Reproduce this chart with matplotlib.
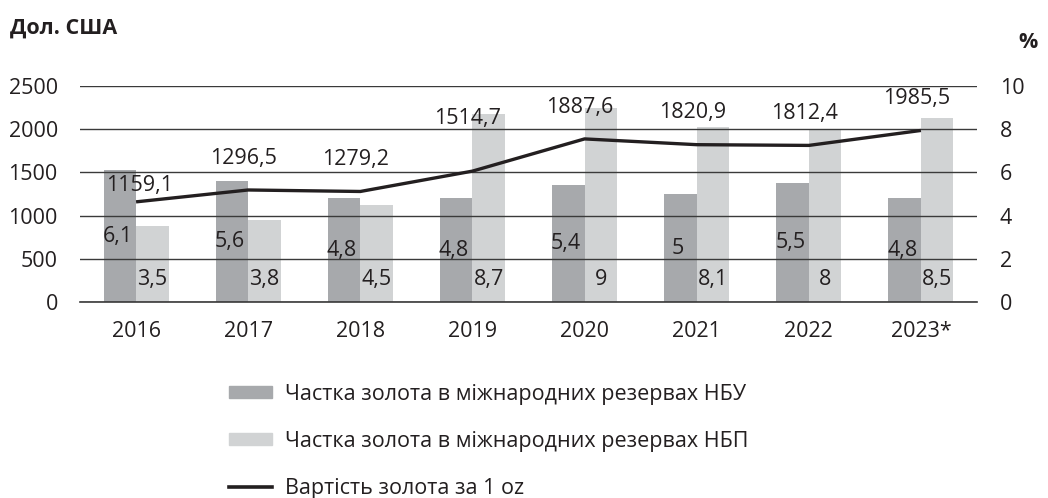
import matplotlib.pyplot as plt
from matplotlib.patches import Patch
from matplotlib.lines import Line2D

# data
years = ['2016', '2017', '2018', '2019', '2020', '2021', '2022', '2023*']
share_nbu = [6.1, 5.6, 4.8, 4.8, 5.4, 5.0, 5.5, 4.8]
share_nbp = [3.5, 3.8, 4.5, 8.7, 9.0, 8.1, 8.0, 8.5]
gold_price = [1159.1, 1296.5, 1279.2, 1514.7, 1887.6, 1820.9, 1812.4, 1985.5]

label_nbu = 'Частка золота в міжнародних резервах НБУ'
label_nbp = 'Частка золота в міжнародних резервах НБП'
label_price = 'Вартість золота за 1 oz'

plt.rcParams['font.family'] = ['Open Sans', 'DejaVu Sans']
txt_color = '#231f20'
dark_grey = '#a7a9ac'
light_grey = '#d1d3d4'
fs = 15.5

def fmt(v):
    s = ('%.1f' % v).replace('.', ',')
    return s[:-2] if s.endswith(',0') else s

fig = plt.figure(figsize=(10.48, 4.98), dpi=100)
ax = fig.add_axes([80 / 1048, 196 / 498, 897 / 1048, 216 / 498])
ax2 = ax.twinx()
ax.set_zorder(ax2.get_zorder() + 1)
ax.patch.set_visible(False)

x = list(range(len(years)))
w = 0.29

# bars on the percent axis
ax2.bar([i - w / 2 for i in x], share_nbu, width=w, color=dark_grey, zorder=1)
ax2.bar([i + w / 2 for i in x], share_nbp, width=w, color=light_grey, zorder=1)
for i in x:
    ax2.text(i - w / 2 - 0.02, share_nbu[i] / 2, fmt(share_nbu[i]), ha='center', va='center',
             fontsize=fs, color=txt_color)
    ax2.text(i + w / 2, 1.05, fmt(share_nbp[i]), ha='center', va='center',
             fontsize=fs, color=txt_color)

# price line on the left axis
ax.plot(x, gold_price, color=txt_color, lw=2.4, zorder=3, solid_capstyle='butt')
offsets = [190, 370, 370, 610, 360, 370, 370, 370]
for i in x:
    ax.text(i + 0.03 if i == 0 else i - 0.04, gold_price[i] + offsets[i], fmt(gold_price[i]),
            ha='center', va='center', fontsize=fs, color=txt_color, zorder=4)

ax.set_xlim(-0.5, len(years) - 0.5)
ax.set_ylim(0, 2500)
ax2.set_ylim(0, 10)
ax.set_yticks(range(0, 2501, 500))
ax2.set_yticks(range(0, 11, 2))
ax.set_xticks(x)
ax.set_xticklabels(years)
ax.grid(axis='y', color='#3a3a3a', lw=1, zorder=2)
ax.axhline(0, color='#3a3a3a', lw=1.2, zorder=2, clip_on=False)
ax.set_axisbelow(False)
for a in (ax, ax2):
    for s in a.spines.values():
        s.set_visible(False)
    a.tick_params(length=0, labelsize=fs, colors=txt_color)
ax.tick_params(axis='y', pad=16)
ax.tick_params(axis='x', pad=14)
ax2.tick_params(axis='y', pad=16.5)

fig.text(10 / 1048, 1 - 28 / 498, 'Дол. США', fontsize=fs, fontweight='bold',
         color=txt_color, va='center', ha='left')
fig.text(1028 / 1048, 1 - 42 / 498, '%', fontsize=fs, fontweight='bold',
         color=txt_color, va='center', ha='center')

handles = [Patch(color=dark_grey), Patch(color=light_grey),
           Line2D([], [], color=txt_color, lw=2.6)]
fig.legend(handles, [label_nbu, label_nbp, label_price], loc='upper left',
           bbox_to_anchor=(229 / 1048, 1 - 384 / 498), frameon=False, fontsize=fs,
           labelspacing=1.2, handlelength=2.0, handleheight=0.5, handletextpad=0.6,
           borderpad=0, borderaxespad=0, labelcolor=txt_color)

fig.savefig('out.png', dpi=100)
